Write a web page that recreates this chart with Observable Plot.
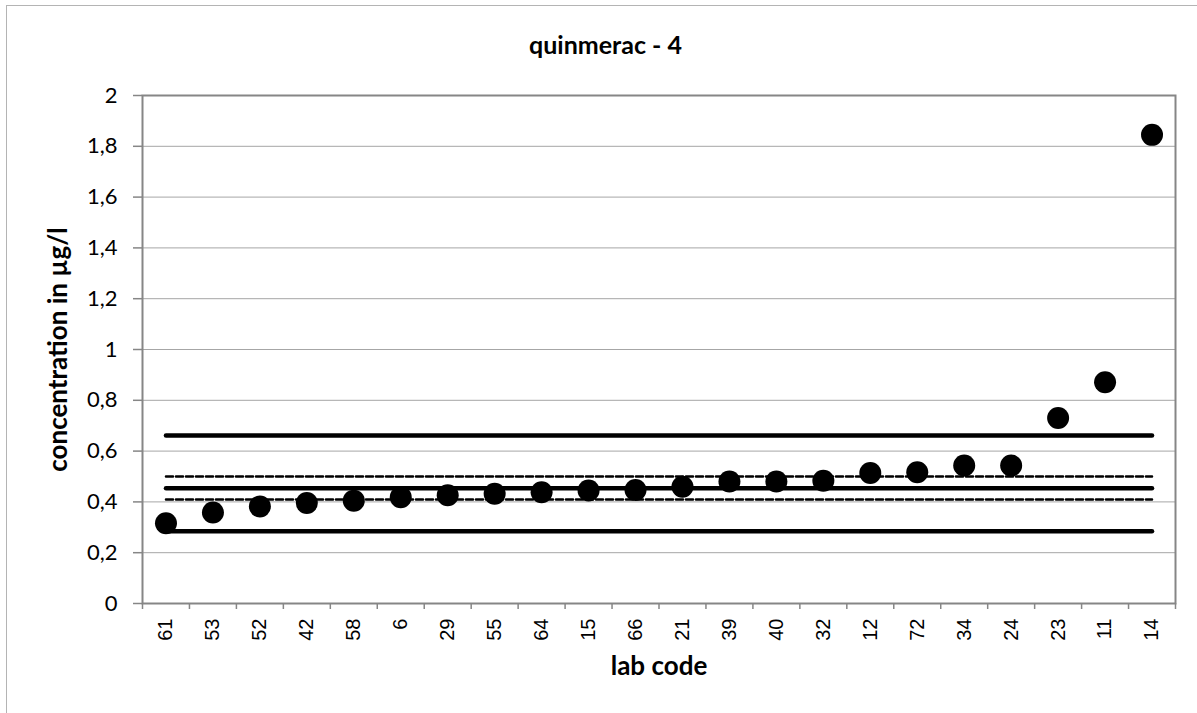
<!DOCTYPE html>
<html>
<head>
<meta charset="utf-8">
<script src="https://cdn.jsdelivr.net/npm/d3@7"></script>
<script src="https://cdn.jsdelivr.net/npm/@observablehq/plot@0.6"></script>
<style>
  html, body { margin: 0; padding: 0; background: #fff; overflow: hidden; }
  #wrap { position: relative; width: 1197px; height: 713px; }
  #border { position: absolute; left: 6px; top: 5px; width: 1300px; height: 800px; border: 1px solid #b4b4b4; box-sizing: border-box; }
  #title { position: relative; height: 60px; box-sizing: border-box; padding-top: 31px; padding-left: 14px; line-height: 26px;
           text-align: center; font-family: Lato, sans-serif; font-weight: bold; font-size: 25px; color: #000; }
  #chart { position: relative; }
</style>
</head>
<body>
<div id="wrap">
  <div id="border"></div>
  <div id="title"></div>
  <div id="chart"></div>
</div>
<script>
// ---- data ----
const titleText = "quinmerac - 4";
const xTitle = "lab code";
const yTitle = "concentration in µg/l";
const labs = ["61","53","52","42","58","6","29","55","64","15","66","21","39","40","32","12","72","34","24","23","11","14"];
const values = [0.316,0.358,0.382,0.396,0.405,0.418,0.426,0.432,0.438,0.445,0.447,0.460,0.480,0.480,0.483,0.514,0.517,0.543,0.543,0.730,0.871,1.845];
const solidLevels = [0.284, 0.454, 0.661];   // lower limit, assigned value, upper limit
const dashedLevels = [0.409, 0.500];         // uncertainty band
const yTicks = [0, 0.2, 0.4, 0.6, 0.8, 1, 1.2, 1.4, 1.6, 1.8, 2];

// ---- derived tables ----
const table = labs.map((lab, i) => ({lab, pos: i + 0.5, value: values[i]}));
const firstPos = table[0].pos, lastPos = table[table.length - 1].pos;
const levelRows = levels => levels.flatMap((v, k) => [{k, pos: firstPos, v}, {k, pos: lastPos, v}]);
const boundaries = d3.range(labs.length + 1);

document.getElementById("title").textContent = titleText;

const axisColor = "#868686";
const plot = Plot.plot({
  width: 1197,
  height: 653,
  marginLeft: 142,
  marginRight: 22,
  marginTop: 35,
  marginBottom: 110,
  style: {background: "transparent", color: "#000", overflow: "visible"},
  x: {type: "linear", domain: [0, labs.length], axis: null},
  y: {domain: [0, 2], axis: null},
  marks: [
    Plot.gridY(yTicks.filter(d => d > 0), {stroke: "#a6a6a6", strokeOpacity: 1, strokeWidth: 1}),
    Plot.frame({stroke: axisColor, strokeWidth: 2}),
    Plot.axisY(yTicks, {
      tickSize: 9, tickPadding: 16, stroke: axisColor, strokeWidth: 1.5,
      tickFormat: d => String(d).replace(".", ","),
      fontSize: 22, fontFamily: "Lato, sans-serif", fill: "#000", label: null
    }),
    Plot.axisX(boundaries, {tickSize: 6, stroke: axisColor, strokeWidth: 1.5, tickFormat: () => "", label: null}),
    Plot.axisX(table.map(d => d.pos), {
      tickSize: 0, tickPadding: 15, tickRotate: -90,
      tickFormat: d => labs[Math.floor(d)],
      fontSize: 20, fontFamily: "'Liberation Sans', Arial, sans-serif", fill: "#000", label: null
    }),
    Plot.line(levelRows(dashedLevels), {x: "pos", y: "v", z: "k", stroke: "#000", strokeWidth: 2.5, strokeDasharray: "7,3"}),
    Plot.line(levelRows(solidLevels), {x: "pos", y: "v", z: "k", stroke: "#000", strokeWidth: 4.5, strokeLinecap: "round"}),
    Plot.dot(table, {x: "pos", y: "value", r: 11, fill: "#000", stroke: "none"}),
    Plot.text([xTitle], {frameAnchor: "bottom", dy: 63, text: d => d, lineAnchor: "middle", textAnchor: "middle",
      fontSize: 26, fontWeight: "bold", fontFamily: "Lato, sans-serif", fill: "#000"}),
    Plot.text([yTitle], {frameAnchor: "left", dx: -84, rotate: -90, text: d => d, lineAnchor: "middle", textAnchor: "middle",
      fontSize: 26, fontWeight: "bold", fontFamily: "Lato, sans-serif", fill: "#000"})
  ]
});
document.getElementById("chart").appendChild(plot);
</script>
</body>
</html>
